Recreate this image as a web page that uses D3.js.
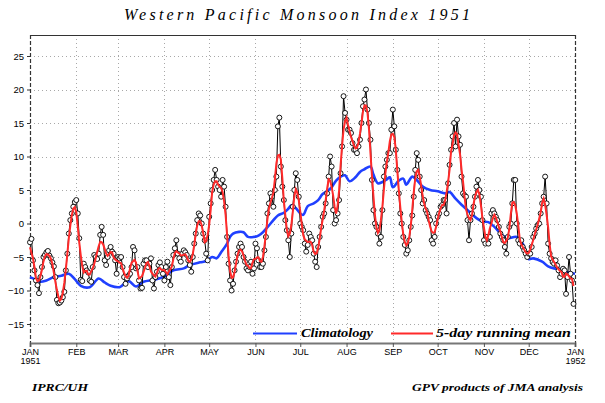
<!DOCTYPE html>
<html><head><meta charset="utf-8">
<script src="https://cdn.jsdelivr.net/npm/d3@7"></script>
<style>body{margin:0;background:#fff}svg{display:block}</style>
</head><body>
<svg id="c" width="605" height="403"></svg>
<script>
const titleText = "Western Pacific Monsoon Index 1951";
const startYear = 1951;
const monthLabels = ["JAN","FEB","MAR","APR","MAY","JUN","JUL","AUG","SEP","OCT","NOV","DEC","JAN"];
const yearLabels = ["1951","1952"];
const yTicks = [-15,-10,-5,0,5,10,15,20,25];
const legendLabels = ["Climatology","5-day running mean"];
const footLeft = "IPRC/UH";
const footRight = "GPV products of JMA analysis";

// daily index values, Jan 1 .. Dec 31 1951
const dailyIndex = [
-2.8,-2.3,-5.5,-7,-8.5,-9.2,-10.4,-8,-6.5,-5,
-4.7,-4.3,-4.1,-4.8,-5.2,-5.8,-6.4,-8,-11.4,-11.9,
-11.8,-11.5,-11,-10.2,-7,-4.5,-1.5,0.5,1.5,2.5,
3.2,3.5,1.5,-2.2,-8.4,-8.6,-6,-6.5,-7,-7.3,
-8.5,-8.7,-6.5,-4.7,-5,-5.3,-4.5,-1.7,-0.5,-1.7,
-5.5,-6.2,-5,-4,-3.5,-4.2,-4.5,-5.5,-7.5,-5,
-5.2,-5,-6.5,-8,-9,-8.2,-7.8,-7.5,-6.5,-3.5,
-4,-6.7,-6.5,-8.5,-9.7,-9.6,-6,-5.5,-5.5,-6.5,
-6,-5.2,-8.5,-9.7,-8,-7.2,-6.2,-5.8,-6.5,-7.5,
-8.5,-6.5,-5.7,-8,-9.2,-6.5,-4.7,-3.7,-2.5,-4.5,
-5.2,-5.7,-4.5,-4,-4.3,-4.7,-5.5,-6.2,-7.2,-5,
-3,-1.5,0.5,1.5,1.2,0,-1.5,-2.5,-4.5,-5.5,
1,3,5,6.5,8,6.5,5.5,5,4,6.5,
5.5,2.5,-2,-6,-8.5,-10,-9,-7,-5.7,-4.5,
-3.5,-3,-3.5,-5,-5.7,-6.7,-7,-6.5,-5.7,-7.5,
-6.7,-3,-3.7,-5.5,-6.5,-6.5,-6,-4,-2,1.5,
3,4.5,4,2.5,5,7,14.5,15.8,8.5,5.5,
3.5,0.5,-1,-2.5,-5,-1.5,2.5,5,7.5,6.5,
4,0,-0.5,-1,-3,-4.2,-3.2,-1.5,-2,-2.5,
-4.5,-5.7,-6.5,-3.5,-2,-0.5,1,1.5,3,4.5,
7,10,8.5,2,0,0.5,1.5,3.5,7.5,11.5,
19,16.5,15.5,14,14,13.5,12,11,11,10.5,
11.5,12.5,15,17.5,18.5,20,17,15,12.5,6.5,
2,0,-0.5,-1.5,-3,-2,2,7,8.5,9.5,
10.5,10.5,14,17,14.5,11,8,4.5,1.5,0,
-2,-3.2,-4.5,-4,-2.5,-0.5,1.2,4,8,10.5,
9.5,7,5,3,3.5,2,1.5,1,0.5,-2.5,
-3,-2,0,1,1.5,2.5,2.75,3.5,3.5,1.5,
6,8.75,11,13,15,11.5,15.5,13,11.75,7,
4.5,4.2,4,0.5,-2.5,0.5,1.5,2.5,4,5.5,
6.5,5,4,0.5,-2.5,-3,-2,-3,-2,1.5,
2,1.5,1,0.5,-0.5,-1.5,-2,-2.5,-3.5,-4.5,
-2,-0.5,0,3,6.5,6.5,0,-2.5,-3,-2.5,
-3.5,-4,-4.5,-5,-4.5,-4.5,-3.5,-2,-1.5,-0.75,
-0.25,0,1.5,3,4,7,3,-3,-4.5,-5.2,
-5.75,-6,-5.5,-6.25,-7,-8,-7.5,-6.75,-7,-10.5,
-8,-5,-7.5,-8.5,-12
];

// climatology read at sample days (day of year, 0 = Jan 1)
const climDay = [0,4,7,11,16,21,26,30,34,40,46,50,54,60,66,71,76,83,89,96,103,107,114,118,122,125,128,132,134,136,140,143,146,150,153,156,160,163,166,170,173,175,178,181,183,186,190,193,196,200,202,205,208,211,214,218,221,224,228,230,233,236,239,241,243,247,250,252,256,259,263,268,273,278,281,285,289,294,299,303,307,311,316,320,326,330,334,337,343,347,351,355,359,365];
const climValue = [-8,-8.4,-8.7,-8.5,-8,-7.8,-7.5,-8.3,-9.3,-9.5,-8.2,-8.8,-9.3,-9.5,-8.6,-9.4,-8.7,-8.4,-8,-7,-6.7,-6.2,-5.8,-5.6,-5,-5.2,-4.3,-3,-2,-1.5,-1.25,-1.3,-2,-2,-1.8,-1.3,-0.3,0.5,1.2,1.6,2.2,2.7,2.3,1.5,1.3,2.6,3,3.5,4.4,5,5.4,6.4,7,7.2,6.3,6.9,7.7,8.1,8.5,7.3,6,6.2,6.6,6.9,5.4,6.4,6.7,5.8,7,6.5,5.5,5,4.8,4.5,4.7,3.7,2.8,1.8,0.8,0.3,0.2,-0.5,-1.7,-2.2,-2,-3,-5.3,-5.2,-5.7,-6.4,-6.7,-6.8,-7.2,-7.5];

const svg = d3.select("#c");
const L = 30, R = 575, T = 35, B = 343;
const t0 = new Date(Date.UTC(startYear,0,1)), t1 = new Date(Date.UTC(startYear+1,0,1));
const x = d3.scaleUtc().domain([t0,t1]).range([L,R]);
const y = d3.scaleLinear().domain([-15,25]).range([324,56]);
const dayDate = i => d3.utcDay.offset(t0, i);
const months = d3.utcMonth.range(t0, d3.utcDay.offset(t1,1));

// grid
const grid = svg.append("g").attr("stroke","#a8a8a8").attr("stroke-width",1).attr("stroke-dasharray","1,3");
grid.selectAll("line.h").data(yTicks).join("line").attr("class","h")
  .attr("x1",L).attr("x2",R).attr("y1",d=>Math.round(y(d))+0.5).attr("y2",d=>Math.round(y(d))+0.5);
grid.selectAll("line.v").data(months.slice(1,-1)).join("line").attr("class","v")
  .attr("x1",d=>Math.round(x(d))+0.5).attr("x2",d=>Math.round(x(d))+0.5).attr("y1",T).attr("y2",B);

// frame
svg.append("line").attr("x1",L).attr("x2",R).attr("y1",T+0.5).attr("y2",T+0.5).attr("stroke","#333").attr("stroke-width",1);
svg.append("line").attr("x1",L+0.5).attr("x2",L+0.5).attr("y1",T).attr("y2",B).attr("stroke","#333").attr("stroke-width",1.2).attr("stroke-dasharray","4,2");
svg.append("line").attr("x1",R+0.5).attr("x2",R+0.5).attr("y1",T).attr("y2",B).attr("stroke","#333").attr("stroke-width",1.2).attr("stroke-dasharray","4,2");

// y axis
const yAx = svg.append("g").attr("transform",`translate(${L},0)`)
  .call(d3.axisLeft(y).tickValues(yTicks).tickSize(3).tickPadding(3).tickFormat(d3.format("d")));
yAx.select(".domain").remove();
yAx.selectAll("text").attr("font-family","Liberation Sans, Arial, sans-serif").attr("font-size",9.5).attr("fill","#000");
yAx.selectAll("line").attr("stroke","#333");

// x axis
const xAx = svg.append("g").attr("transform",`translate(0,${B})`)
  .call(d3.axisBottom(x).tickValues(months).tickSize(4).tickPadding(2).tickFormat((d,i)=>monthLabels[i]));
xAx.select(".domain").attr("stroke","#777").attr("stroke-width",2);
xAx.selectAll("line").attr("stroke","#555");
xAx.selectAll("text").attr("font-family","Liberation Sans, Arial, sans-serif").attr("font-size",9).attr("fill","#000");
xAx.selectAll(".tick").filter((d,i)=>i===0||i===months.length-1).select("text")
  .each(function(d,i){
    const t=d3.select(this);
    t.append("tspan").attr("x",0).attr("dy","1.0em").text(d.getUTCFullYear()===startYear?yearLabels[0]:yearLabels[1]);
  });

// climatology
const clim = climDay.map((d,i)=>({date:dayDate(d), v:climValue[i]}));
svg.append("path").datum(clim).attr("fill","none").attr("stroke","#2040ff").attr("stroke-width",2.6)
  .attr("d", d3.line().x(d=>x(d.date)).y(d=>y(d.v)).curve(d3.curveCatmullRom));

// daily
const daily = dailyIndex.map((v,i)=>({date:dayDate(i), v}));
svg.append("path").datum(daily).attr("fill","none").attr("stroke","#000").attr("stroke-width",1)
  .attr("d", d3.line().x(d=>x(d.date)).y(d=>y(d.v)));
svg.append("g").selectAll("circle").data(daily).join("circle")
  .attr("cx",d=>x(d.date)).attr("cy",d=>y(d.v)).attr("r",2.5)
  .attr("fill","#fff").attr("stroke","#000").attr("stroke-width",0.9);

// 5-day running mean
const rm = daily.map((d,i)=>({date:d.date, v:d3.mean(dailyIndex.slice(Math.max(0,i-2), Math.min(dailyIndex.length,i+3)))}));
svg.append("path").datum(rm).attr("fill","none").attr("stroke","#ff2a2a").attr("stroke-width",2)
  .attr("d", d3.line().x(d=>x(d.date)).y(d=>y(d.v)));

// legend
const lf = "Liberation Serif, DejaVu Serif, serif";
svg.append("line").attr("x1",253).attr("x2",297).attr("y1",333.5).attr("y2",333.5).attr("stroke","#2040ff").attr("stroke-width",2);
svg.append("text").attr("x",301).attr("y",337).attr("font-family",lf).attr("font-style","italic").attr("font-weight","bold").attr("font-size",11.5)
  .attr("textLength",72).attr("lengthAdjust","spacingAndGlyphs").text(legendLabels[0]);
svg.append("line").attr("x1",391).attr("x2",433).attr("y1",333.5).attr("y2",333.5).attr("stroke","#ff2a2a").attr("stroke-width",2);
svg.append("text").attr("x",436).attr("y",337).attr("font-family",lf).attr("font-style","italic").attr("font-weight","bold").attr("font-size",11.5)
  .attr("textLength",135).attr("lengthAdjust","spacingAndGlyphs").text(legendLabels[1]);

// title
svg.append("text").attr("x",297).attr("y",20).attr("text-anchor","middle").attr("font-family",lf)
  .attr("font-style","italic").attr("font-size",16).attr("textLength",346).attr("lengthAdjust","spacing").text(titleText);

// footers
svg.append("text").attr("x",32).attr("y",391).attr("font-family",lf).attr("font-style","italic").attr("font-weight","bold")
  .attr("font-size",11).attr("textLength",56).attr("lengthAdjust","spacingAndGlyphs").text(footLeft);
svg.append("text").attr("x",412).attr("y",391).attr("font-family",lf).attr("font-style","italic").attr("font-weight","bold")
  .attr("font-size",11).attr("textLength",171).attr("lengthAdjust","spacingAndGlyphs").text(footRight);
</script>
</body></html>
